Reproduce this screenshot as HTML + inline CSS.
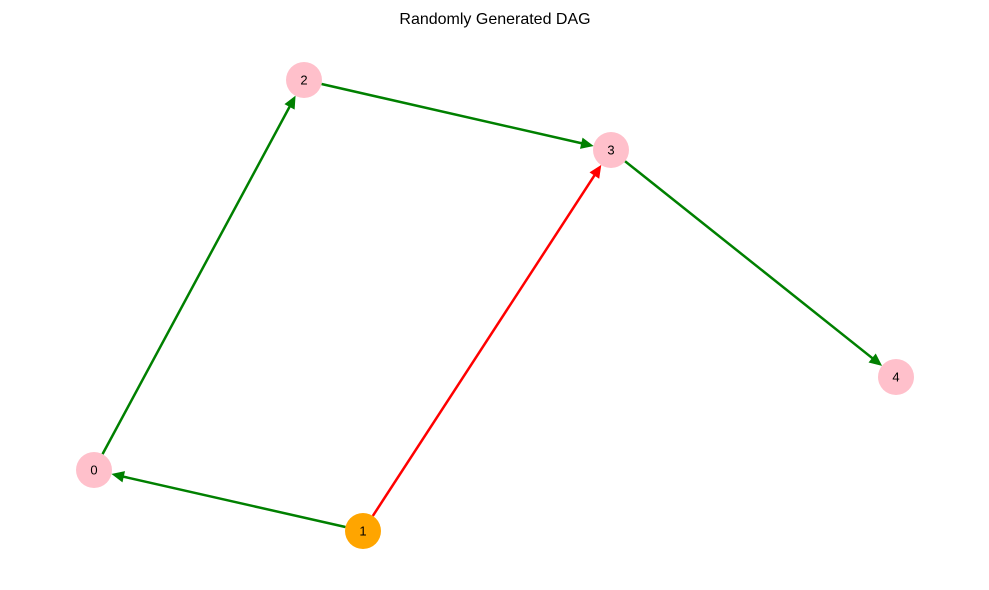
<!DOCTYPE html>
<html><head><meta charset="utf-8"><style>
html,body{margin:0;padding:0;background:#fff;}
svg{display:block;font-family:"Liberation Sans","DejaVu Sans",sans-serif;}
</style></head><body>
<svg id="chart" width="989" height="590" viewBox="0 0 989 590">
<text x="495" y="24" text-anchor="middle" font-size="16" fill="#000">Randomly Generated DAG</text>
<g id="edges"></g>
<g id="nodes"></g>
</svg>
<script>
const nodeIds = ["0","1","2","3","4"];
const nodeX = [94, 363, 304, 611, 896];
const nodeY = [470, 531, 80, 150, 377];
const nodeColors = ["#FFC0CB","#FFA500","#FFC0CB","#FFC0CB","#FFC0CB"];
const edgeFrom = [0, 2, 3, 1, 1];
const edgeTo = [2, 3, 4, 0, 3];
const edgeColors = ["green","green","green","green","red"];

const NS = "http://www.w3.org/2000/svg";
const R = 18;
const eg = document.getElementById("edges");
const ng = document.getElementById("nodes");
for (let i = 0; i < edgeFrom.length; i++) {
  const a = edgeFrom[i], b = edgeTo[i];
  const x1 = nodeX[a], y1 = nodeY[a], x2 = nodeX[b], y2 = nodeY[b];
  const dx = x2 - x1, dy = y2 - y1, L = Math.hypot(dx, dy);
  const ux = dx / L, uy = dy / L;
  const sx = x1 + ux * R, sy = y1 + uy * R;
  const tx = x2 - ux * (R + 1), ty = y2 - uy * (R + 1);
  const hl = 11, hw = 5;
  const bx = tx - ux * hl, by = ty - uy * hl;
  const line = document.createElementNS(NS, "line");
  line.setAttribute("x1", sx); line.setAttribute("y1", sy);
  line.setAttribute("x2", bx + ux * 2); line.setAttribute("y2", by + uy * 2);
  line.setAttribute("stroke", edgeColors[i]); line.setAttribute("stroke-width", "2.5");
  
  
  eg.appendChild(line);
  const head = document.createElementNS(NS, "polygon");
  const px = -uy, py = ux;
  head.setAttribute("points", `${tx},${ty} ${bx + px * hw},${by + py * hw} ${bx - px * hw},${by - py * hw}`);
  head.setAttribute("fill", edgeColors[i]);
  head.setAttribute("stroke", edgeColors[i]);
  head.setAttribute("stroke-width", "1");
  
  
  eg.appendChild(head);
}
for (let i = 0; i < nodeIds.length; i++) {
  const c = document.createElementNS(NS, "circle");
  c.setAttribute("cx", nodeX[i]); c.setAttribute("cy", nodeY[i]); c.setAttribute("r", R);
  c.setAttribute("fill", nodeColors[i]);
  
  
  ng.appendChild(c);
  const t = document.createElementNS(NS, "text");
  t.setAttribute("x", nodeX[i]); t.setAttribute("y", nodeY[i] + 4.5);
  t.setAttribute("text-anchor", "middle"); t.setAttribute("font-size", "13");
  t.textContent = nodeIds[i];
  
  
  ng.appendChild(t);
}
</script>
</body></html>
